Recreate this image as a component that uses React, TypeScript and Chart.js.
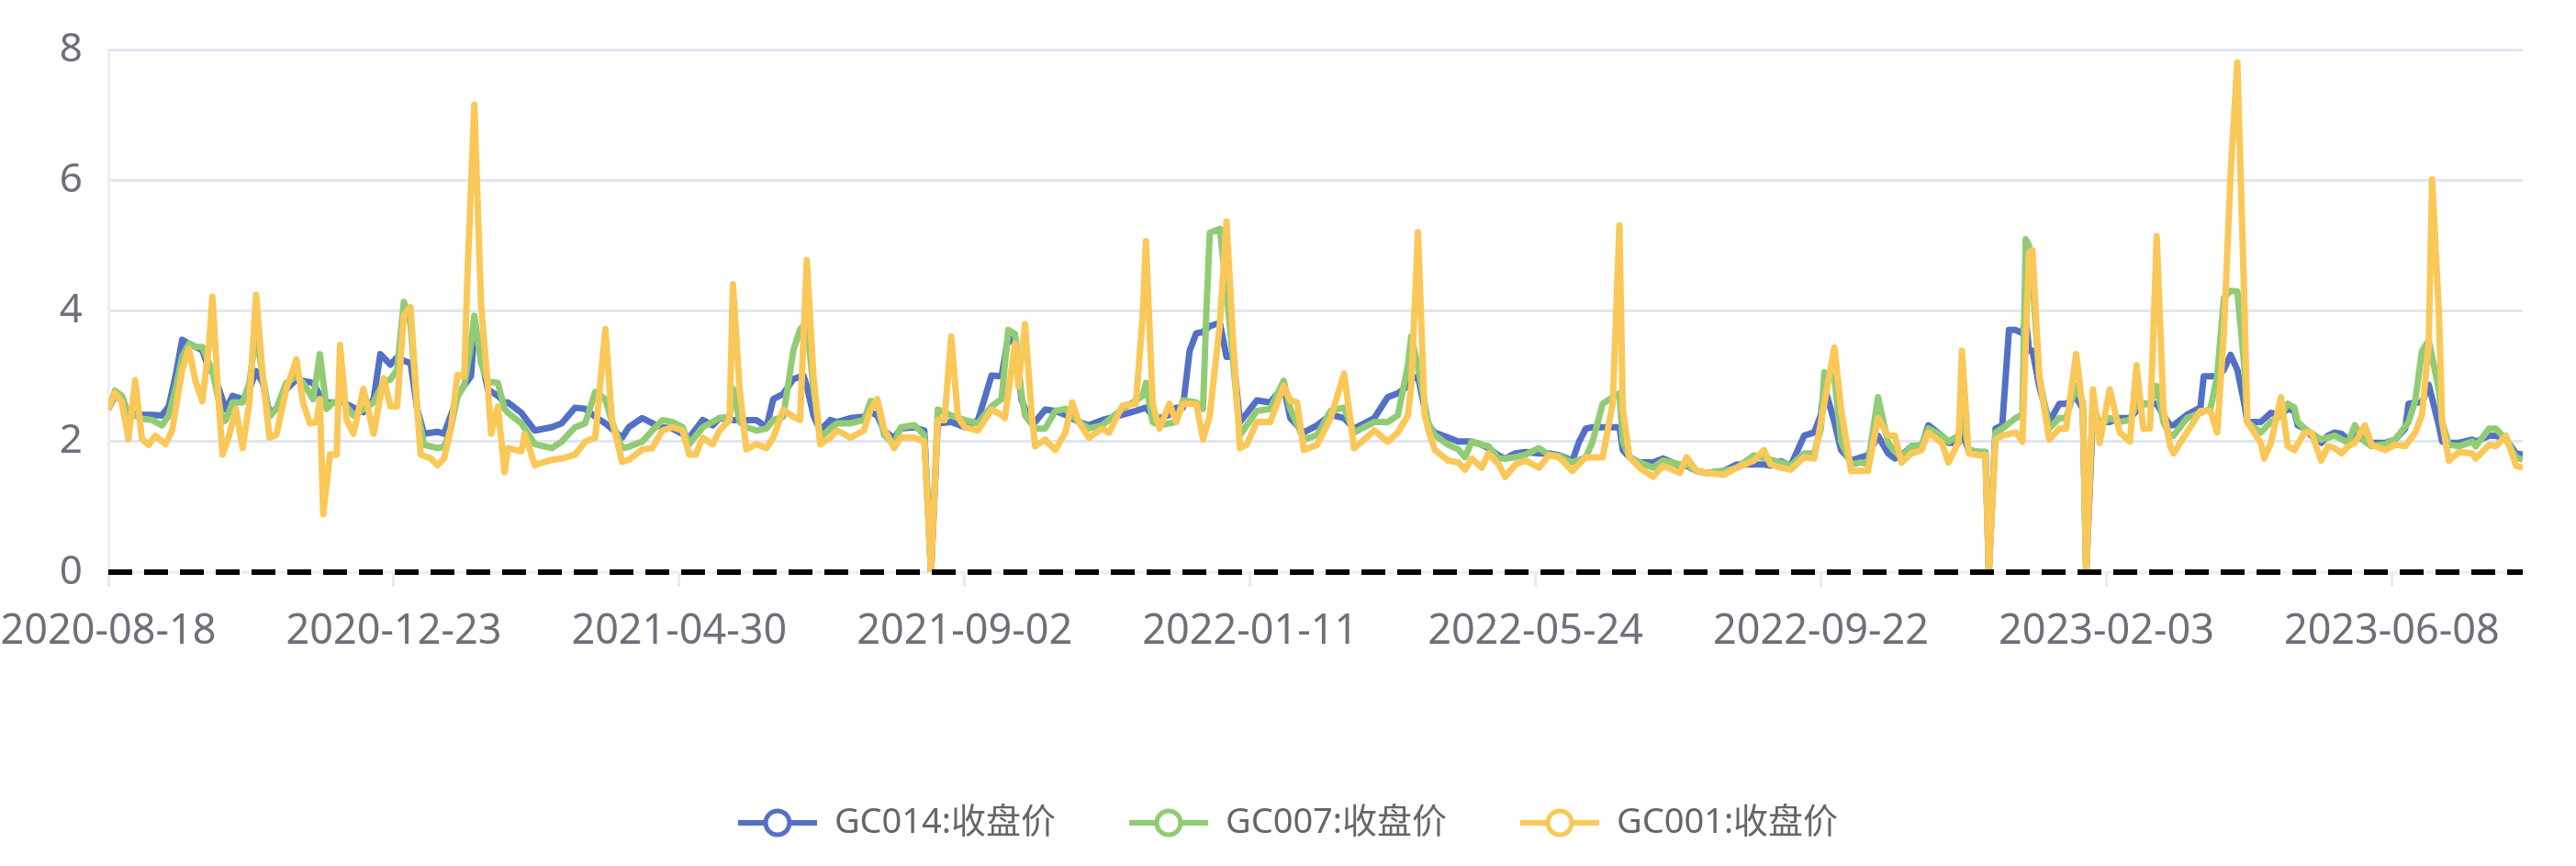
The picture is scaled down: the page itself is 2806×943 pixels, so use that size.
import React, { useEffect, useRef } from 'react';
import { Chart, registerables } from 'chart.js';

Chart.register(...registerables);

// ---------- data ----------
const TICK_LABELS = [
  '2020-08-18', '2020-12-23', '2021-04-30', '2021-09-02', '2022-01-11',
  '2022-05-24', '2022-09-22', '2023-02-03', '2023-06-08',
];
const LABEL_INTERVAL = 85; // trading days between labelled dates
const LAST_DAY = 719; // index of last trading day
const ZERO_LINE = [0, 0]; // value of the dashed reference line at both ends

const SERIES_NAMES = ['GC014:收盘价', 'GC007:收盘价', 'GC001:收盘价'];
const SERIES_COLORS = ['#5470c6', '#91cc75', '#fac858'];

// [trading-day index, closing price]
const GC014: [number, number][] = [
  [0,2.5],[2,2.7],[4,2.7],[6,2.4],[8,2.42],[10,2.41],[13,2.41],[16,2.4],[18,2.54],[20,3.0],[22,3.56],[24,3.5],[26,3.45],[28,3.4],[30,3.1],[31,3.08],[33,2.8],[35,2.49],[37,2.7],[40,2.65],[42,2.8],[44,3.08],[46,2.9],[48,2.44],[50,2.5],[53,2.8],[56,2.95],[59,2.92],[61,2.9],[63,2.7],[65,2.6],[70,2.6],[73,2.52],[76,2.45],[79,2.65],[81,3.34],[84,3.18],[86,3.29],[88,3.24],[90,3.2],[92,2.5],[94,2.12],[98,2.15],[100,2.12],[102,2.4],[104,2.7],[106,2.86],[108,3.0],[109,3.72],[111,3.3],[113,2.8],[116,2.7],[118,2.6],[119,2.6],[123,2.44],[127,2.17],[132,2.22],[135,2.28],[139,2.52],[142,2.5],[145,2.38],[148,2.28],[153,2.06],[155,2.22],[159,2.36],[162,2.28],[165,2.22],[168,2.2],[173,2.06],[177,2.33],[180,2.25],[182,2.36],[186,2.33],[190,2.33],[193,2.33],[196,2.22],[198,2.65],[201,2.73],[204,2.96],[207,3.01],[208,2.85],[210,2.4],[212,2.17],[215,2.33],[217,2.3],[221,2.36],[225,2.38],[227,2.45],[229,2.4],[231,2.17],[234,2.05],[236,2.2],[240,2.22],[243,2.17],[245,0],[247,2.28],[251,2.3],[255,2.22],[259,2.33],[263,3.01],[266,3.0],[268,3.6],[270,3.5],[272,2.63],[273,2.5],[276,2.3],[279,2.49],[282,2.47],[285,2.41],[289,2.3],[292,2.25],[296,2.33],[302,2.41],[306,2.47],[309,2.52],[311,2.4],[313,2.36],[316,2.41],[318,2.52],[320,2.52],[322,3.39],[324,3.66],[326,3.68],[328,3.77],[331,3.82],[333,3.3],[335,3.3],[337,2.3],[342,2.63],[346,2.6],[350,2.85],[352,2.36],[356,2.14],[360,2.25],[364,2.41],[368,2.36],[371,2.2],[377,2.36],[380,2.6],[381,2.68],[384,2.74],[387,2.85],[388,2.95],[390,3.0],[393,2.25],[395,2.14],[399,2.06],[402,2.0],[406,2.0],[409,1.95],[411,1.9],[414,1.79],[416,1.74],[419,1.82],[422,1.84],[426,1.82],[429,1.82],[432,1.79],[436,1.71],[438,2.0],[440,2.2],[442,2.22],[448,2.22],[450,2.22],[451,1.87],[453,1.76],[456,1.68],[460,1.68],[463,1.74],[468,1.63],[470,1.63],[473,1.55],[476,1.52],[481,1.55],[485,1.65],[490,1.65],[493,1.65],[495,1.63],[498,1.7],[501,1.63],[505,2.09],[508,2.14],[510,2.41],[511,2.85],[514,2.3],[516,1.87],[519,1.71],[522,1.76],[524,1.79],[527,2.09],[530,1.82],[532,1.74],[534,1.79],[537,1.93],[540,1.93],[542,2.25],[546,2.09],[548,1.98],[551,1.98],[552,2.14],[554,1.87],[557,1.84],[559,1.84],[560,0],[562,2.2],[564,2.25],[566,3.71],[568,3.71],[570,3.66],[571,3.9],[572,3.39],[573,3.39],[575,2.85],[578,2.3],[581,2.58],[583,2.58],[586,2.68],[588,2.5],[589,0],[591,2.4],[593,2.3],[596,2.3],[599,2.36],[602,2.36],[604,2.47],[606,2.58],[608,2.58],[610,2.58],[612,2.4],[614,2.25],[615,2.25],[619,2.41],[623,2.52],[624,3.0],[626,3.0],[628,3.0],[630,3.1],[632,3.33],[634,3.1],[636,2.6],[637,2.3],[641,2.3],[644,2.44],[647,2.41],[649,2.5],[651,2.47],[652,2.25],[654,2.2],[656,2.09],[659,1.98],[661,2.09],[663,2.14],[665,2.12],[667,2.03],[669,2.09],[674,1.98],[678,1.98],[681,2.03],[684,2.2],[685,2.58],[687,2.6],[689,2.6],[691,2.87],[694,2.25],[695,2.0],[697,1.98],[700,1.98],[704,2.03],[705,2.0],[709,2.09],[711,2.09],[714,2.03],[717,1.82],[719,1.8],
];

const GC007: [number, number][] = [
  [0,2.5],[2,2.78],[4,2.7],[6,2.4],[8,2.4],[10,2.35],[13,2.33],[16,2.25],[18,2.4],[20,2.8],[22,3.3],[24,3.5],[26,3.45],[28,3.45],[30,3.2],[31,3.08],[33,2.6],[34,2.3],[35,2.33],[37,2.6],[40,2.6],[42,2.9],[44,3.66],[46,3.0],[48,2.38],[50,2.5],[53,2.9],[56,3.0],[58,2.9],[61,2.65],[63,3.34],[65,2.5],[67,2.6],[70,2.6],[73,2.4],[76,2.5],[79,2.6],[82,2.92],[84,2.95],[86,3.1],[88,4.14],[90,3.8],[92,2.5],[94,1.95],[98,1.9],[100,1.92],[102,2.2],[104,2.7],[106,2.86],[108,3.5],[109,3.93],[111,3.2],[113,2.92],[116,2.9],[118,2.5],[119,2.44],[123,2.28],[127,1.96],[132,1.9],[135,2.0],[139,2.22],[142,2.28],[145,2.76],[148,2.65],[150,2.3],[153,1.9],[155,1.92],[159,2.0],[162,2.17],[165,2.33],[168,2.3],[171,2.22],[173,1.96],[177,2.22],[182,2.36],[185,2.38],[186,2.81],[188,2.3],[190,2.22],[193,2.17],[196,2.2],[198,2.33],[201,2.38],[204,3.4],[206,3.72],[208,3.82],[210,2.8],[212,2.06],[215,2.2],[217,2.28],[221,2.28],[225,2.33],[227,2.62],[229,2.6],[231,2.1],[234,1.96],[236,2.22],[240,2.25],[243,2.1],[245,0],[247,2.49],[251,2.4],[255,2.33],[259,2.28],[263,2.54],[266,2.65],[268,3.71],[270,3.65],[272,2.7],[273,2.4],[276,2.2],[279,2.2],[282,2.47],[285,2.5],[289,2.3],[292,2.2],[296,2.25],[302,2.5],[306,2.63],[308,2.7],[309,2.9],[311,2.3],[313,2.25],[318,2.3],[320,2.63],[324,2.6],[326,2.5],[327,4.0],[328,5.2],[331,5.26],[333,4.31],[335,3.2],[337,2.1],[342,2.47],[346,2.5],[350,2.93],[352,2.5],[356,2.03],[360,2.1],[364,2.47],[368,2.52],[371,2.14],[377,2.3],[381,2.3],[384,2.4],[387,3.17],[388,3.61],[390,3.15],[393,2.3],[395,2.1],[399,1.95],[402,1.88],[404,1.76],[406,2.0],[409,1.95],[411,1.93],[414,1.74],[416,1.74],[419,1.76],[422,1.8],[426,1.9],[429,1.8],[432,1.78],[436,1.68],[440,1.76],[442,2.0],[445,2.58],[448,2.68],[450,2.74],[451,2.0],[453,1.76],[456,1.68],[460,1.6],[463,1.71],[468,1.65],[470,1.65],[473,1.55],[476,1.52],[481,1.55],[485,1.6],[490,1.79],[493,1.75],[498,1.68],[501,1.63],[505,1.82],[508,1.82],[510,2.2],[511,3.06],[514,3.0],[516,2.0],[519,1.65],[522,1.68],[524,1.65],[527,2.68],[530,1.98],[532,1.85],[534,1.76],[537,1.93],[540,1.95],[542,2.2],[546,2.09],[548,2.0],[551,2.09],[552,2.41],[554,1.87],[557,1.84],[559,1.84],[560,0],[562,2.14],[564,2.2],[568,2.36],[570,2.41],[571,5.1],[572,5.0],[573,4.5],[575,3.0],[578,2.2],[581,2.36],[583,2.36],[586,2.85],[588,2.6],[589,0],[591,2.6],[593,2.25],[596,2.36],[599,2.3],[602,2.33],[604,2.58],[606,2.58],[608,2.58],[610,2.85],[612,2.3],[614,2.09],[615,2.09],[619,2.36],[623,2.44],[626,2.5],[628,3.0],[630,4.2],[632,4.31],[634,4.3],[636,3.2],[637,2.3],[641,2.14],[644,2.3],[647,2.4],[649,2.58],[651,2.52],[652,2.3],[654,2.2],[659,2.03],[663,2.09],[667,1.98],[669,2.25],[672,2.0],[674,1.93],[678,1.96],[681,2.03],[685,2.3],[687,2.63],[689,3.39],[691,3.55],[694,2.8],[695,2.3],[697,1.95],[700,1.93],[704,2.0],[705,1.93],[709,2.2],[711,2.2],[714,2.03],[717,1.76],[719,1.72],
];

const GC001: [number, number][] = [
  [0,2.5],[2,2.75],[4,2.6],[6,2.04],[8,2.94],[10,2.04],[12,1.95],[14,2.09],[17,1.96],[19,2.17],[22,3.1],[24,3.42],[26,2.92],[28,2.62],[30,3.5],[31,4.22],[33,2.5],[34,1.8],[36,2.1],[38,2.5],[40,1.9],[42,2.6],[44,4.25],[46,3.0],[48,2.06],[50,2.1],[53,2.8],[56,3.26],[58,2.6],[60,2.28],[62,2.3],[63,2.65],[64,0.89],[66,1.8],[68,1.8],[69,3.48],[71,2.33],[73,2.12],[76,2.81],[79,2.12],[82,2.97],[84,2.54],[86,2.54],[88,3.93],[90,4.06],[92,2.5],[93,1.8],[96,1.74],[98,1.64],[100,1.74],[102,2.2],[104,3.02],[106,3.0],[107,4.62],[109,7.16],[111,4.09],[113,2.86],[114,2.12],[116,2.54],[118,1.53],[119,1.9],[123,1.85],[124,2.12],[127,1.64],[132,1.72],[135,1.74],[139,1.8],[142,2.0],[145,2.06],[148,3.72],[150,2.33],[153,1.69],[155,1.72],[159,1.88],[162,1.9],[165,2.17],[168,2.22],[171,2.17],[173,1.8],[175,1.8],[177,2.06],[180,1.96],[182,2.17],[185,2.33],[186,4.41],[188,2.8],[190,1.88],[193,1.96],[196,1.9],[198,2.06],[201,2.49],[204,2.38],[206,2.33],[208,4.78],[210,3.0],[212,1.96],[215,2.06],[217,2.17],[221,2.06],[225,2.17],[227,2.49],[229,2.65],[231,2.2],[234,1.9],[236,2.06],[240,2.06],[243,2.0],[245,0],[247,2.33],[249,2.33],[251,3.61],[253,2.38],[255,2.22],[259,2.17],[263,2.49],[266,2.41],[267,2.36],[270,3.5],[271,2.85],[273,3.8],[275,2.4],[276,1.93],[279,2.03],[282,1.87],[285,2.14],[287,2.6],[289,2.3],[292,2.06],[296,2.2],[298,2.14],[302,2.55],[306,2.58],[308,3.9],[309,5.07],[311,2.58],[313,2.2],[316,2.58],[318,2.3],[320,2.58],[324,2.58],[326,2.03],[328,2.4],[331,3.8],[333,5.37],[335,3.5],[337,1.9],[339,1.95],[342,2.3],[346,2.3],[350,2.85],[352,2.63],[354,2.6],[356,1.87],[360,1.95],[364,2.36],[368,3.04],[371,1.9],[374,2.03],[377,2.17],[381,2.0],[384,2.14],[387,2.4],[388,2.85],[390,5.21],[392,2.4],[393,2.2],[395,1.87],[399,1.71],[402,1.68],[404,1.57],[406,1.74],[409,1.6],[411,1.82],[414,1.65],[416,1.46],[419,1.65],[422,1.71],[426,1.6],[429,1.79],[432,1.76],[436,1.55],[440,1.76],[445,1.76],[448,2.58],[450,5.31],[451,2.5],[453,1.76],[456,1.6],[460,1.46],[463,1.63],[468,1.52],[470,1.76],[473,1.55],[476,1.52],[481,1.49],[485,1.6],[490,1.71],[493,1.87],[495,1.65],[498,1.6],[501,1.57],[505,1.76],[508,1.74],[511,2.58],[514,3.44],[516,2.5],[519,1.55],[522,1.55],[524,1.55],[527,2.36],[530,2.09],[532,2.09],[534,1.68],[537,1.82],[540,1.87],[542,2.14],[546,1.98],[548,1.68],[551,2.0],[552,3.39],[554,1.82],[557,1.79],[559,1.79],[560,0],[562,2.03],[564,2.09],[568,2.14],[570,2.0],[571,3.5],[572,4.9],[573,4.93],[575,3.0],[578,2.03],[581,2.2],[583,2.2],[586,3.34],[588,2.5],[589,0],[591,2.8],[593,1.98],[596,2.8],[599,2.14],[602,2.0],[604,3.17],[606,2.2],[608,2.2],[610,5.15],[612,2.5],[614,1.93],[615,1.82],[619,2.14],[623,2.47],[626,2.47],[628,2.14],[630,3.65],[632,6.1],[634,7.81],[636,4.3],[637,2.3],[641,1.98],[642,1.74],[644,1.98],[647,2.68],[649,1.93],[651,1.87],[654,2.14],[656,2.14],[659,1.71],[661,1.93],[663,1.9],[665,1.82],[667,1.93],[669,1.98],[672,2.25],[674,1.95],[678,1.87],[681,1.95],[684,1.93],[687,2.14],[689,2.41],[691,3.5],[692,6.02],[694,4.0],[695,2.3],[697,1.71],[700,1.84],[704,1.82],[705,1.74],[709,1.95],[711,1.93],[714,2.09],[717,1.63],[719,1.6],
];

const SERIES = [GC014, GC007, GC001];

// ---------- styling ----------
const FONT_FAMILY = '"Noto Sans", "Noto Sans CJK SC", sans-serif';
const AXIS_LABEL_COLOR = '#6E7079';
const LEGEND_TEXT_COLOR = '#666666';

function makeLegendIcon(color: string): HTMLCanvasElement {
  const c = document.createElement('canvas');
  c.width = 86;
  c.height = 36;
  const ctx = c.getContext('2d')!;
  ctx.strokeStyle = color;
  ctx.lineWidth = 6;
  ctx.beginPath();
  ctx.moveTo(0, 18);
  ctx.lineTo(86, 18);
  ctx.stroke();
  ctx.beginPath();
  ctx.arc(43, 18, 13, 0, Math.PI * 2);
  ctx.fillStyle = '#ffffff';
  ctx.fill();
  ctx.lineWidth = 5;
  ctx.stroke();
  return c;
}

export default function App() {
  const canvasRef = useRef<HTMLCanvasElement | null>(null);

  useEffect(() => {
    document.body.style.margin = '0';
    const canvas = canvasRef.current;
    if (!canvas) return;

    const icons = SERIES_COLORS.map(makeLegendIcon);

    const seriesDatasets = SERIES.map((s, i) => ({
      label: SERIES_NAMES[i],
      data: s.map(([x, y]) => ({ x, y })),
      borderColor: SERIES_COLORS[i],
      backgroundColor: SERIES_COLORS[i],
      borderWidth: 7,
      pointRadius: 0,
      tension: 0,
      fill: false,
      borderJoinStyle: 'round' as const,
      order: 3 - i,
    }));

    const zeroDataset = {
      label: 'zero',
      data: [
        { x: 0, y: ZERO_LINE[0] },
        { x: LAST_DAY, y: ZERO_LINE[1] },
      ],
      borderColor: '#000000',
      backgroundColor: '#000000',
      borderWidth: 6,
      borderDash: [26, 13],
      borderCapStyle: 'butt' as const,
      pointRadius: 0,
      fill: false,
      order: 0,
      clip: false as any,
    };

    const chart = new Chart(canvas, {
      type: 'line',
      data: { datasets: [...seriesDatasets, zeroDataset] },
      options: {
        responsive: false,
        animation: false,
        layout: { padding: { top: 48, right: 0, bottom: 18, left: 0 } },
        plugins: {
          tooltip: { enabled: false },
          legend: {
            position: 'bottom',
            labels: {
              usePointStyle: true,
              pointStyleWidth: 86,
              boxHeight: 36,
              padding: 80,
              color: LEGEND_TEXT_COLOR,
              font: { family: FONT_FAMILY, size: 38 },
              generateLabels: () =>
                SERIES_NAMES.map((name, i) => ({
                  text: name,
                  pointStyle: icons[i],
                  fillStyle: SERIES_COLORS[i],
                  strokeStyle: SERIES_COLORS[i],
                  lineWidth: 0,
                  hidden: false,
                  datasetIndex: i,
                  fontColor: LEGEND_TEXT_COLOR,
                })),
            },
          },
        },
        scales: {
          x: {
            type: 'linear',
            min: 0,
            max: LAST_DAY,
            afterFit: (scale: any) => {
              scale.height = 174;
              scale.paddingLeft = 0;
              scale.paddingRight = 58;
            },
            grid: {
              drawOnChartArea: false,
              color: '#EBEBEB',
              lineWidth: 3,
              tickLength: 16,
            },
            border: { display: true, color: '#EEEEEE', width: 3 },
            ticks: {
              stepSize: LABEL_INTERVAL,
              includeBounds: false,
              autoSkip: false,
              maxRotation: 0,
              padding: 22,
              color: AXIS_LABEL_COLOR,
              font: { family: FONT_FAMILY, size: 45 },
              callback: (v: any) => {
                const n = Number(v);
                if (n % LABEL_INTERVAL !== 0) return '';
                return TICK_LABELS[n / LABEL_INTERVAL] ?? '';
              },
            },
          },
          y: {
            min: 0,
            max: 8,
            afterFit: (scale: any) => {
              scale.width = 118;
            },
            grid: {
              color: '#E0E6F1',
              lineWidth: 3,
              drawTicks: false,
            },
            border: { display: true, color: '#EEEEEE', width: 3 },
            ticks: {
              stepSize: 2,
              padding: 28,
              color: AXIS_LABEL_COLOR,
              font: { family: FONT_FAMILY, size: 44 },
            },
          },
        },
      },
    } as any);

    return () => chart.destroy();
  }, []);

  return (
    <div style={{ width: 2806, height: 943 }}>
      <canvas ref={canvasRef} width={2806} height={943} style={{ display: 'block' }} />
    </div>
  );
}
